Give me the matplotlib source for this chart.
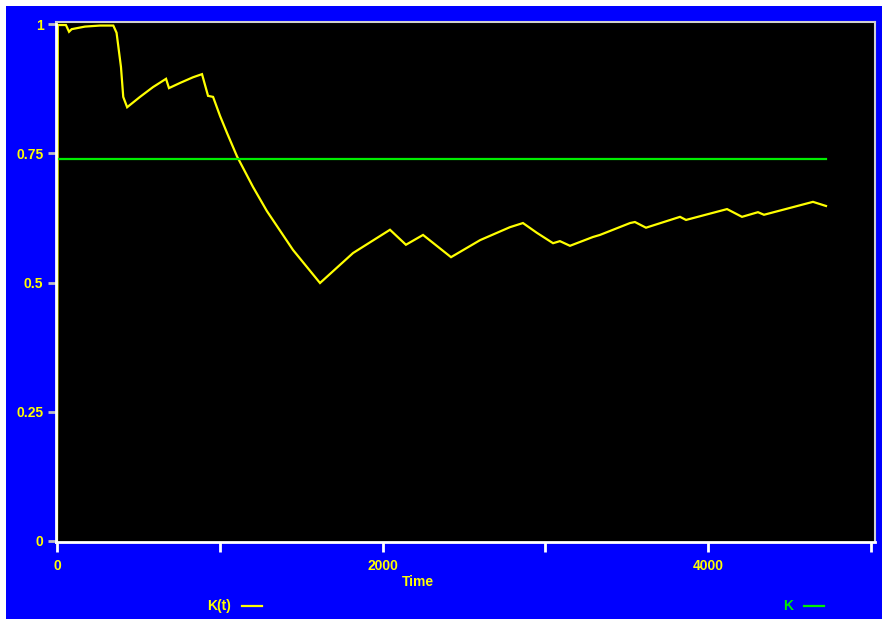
import matplotlib
matplotlib.use("Agg")
import matplotlib.pyplot as plt
from matplotlib.patches import Rectangle
from matplotlib.lines import Line2D

# K(t) trajectory over time
time = [0, 5, 55, 74, 90, 172, 264, 346, 366, 393, 407, 431, 510, 590, 670, 688,
        756, 836, 891, 928, 959, 1002, 1045, 1106, 1204, 1290, 1450, 1616, 1819,
        2046, 2144, 2249, 2421, 2600, 2783, 2863, 2949, 3048, 3090, 3152, 3293,
        3336, 3521, 3551, 3619, 3828, 3865, 4117, 4209, 4307, 4344, 4645, 4725]
k_t = [0.0, 0.998, 0.998, 0.985, 0.990, 0.995, 0.997, 0.997, 0.983, 0.917, 0.859,
       0.839, 0.859, 0.878, 0.894, 0.876, 0.886, 0.897, 0.903, 0.861, 0.859,
       0.822, 0.789, 0.744, 0.685, 0.638, 0.563, 0.499, 0.557, 0.602, 0.573,
       0.592, 0.549, 0.582, 0.607, 0.615, 0.596, 0.576, 0.580, 0.571, 0.588,
       0.592, 0.615, 0.617, 0.606, 0.627, 0.621, 0.642, 0.627, 0.636, 0.631,
       0.656, 0.648]

# constant reference level K
k_level = 0.738
k_span = [0, 4725]

x_ticks = [0, 1000, 2000, 3000, 4000, 5000]
x_labels = ["0", "", "2000", "", "4000", ""]
y_ticks = [0, 0.25, 0.5, 0.75, 1]
y_labels = ["0", "0.25", "0.5", "0.75", "1"]

YELLOW = "#ffff00"
GREEN = "#00ee00"
BLUE = "#0000ff"

plt.rcParams["font.family"] = ["Liberation Sans", "DejaVu Sans"]
plt.rcParams["font.weight"] = "bold"

W, H = 882, 619
fig = plt.figure(figsize=(W / 100, H / 100), dpi=100, facecolor="white")
fig.add_artist(Rectangle((6 / W, 0), 1 - 6 / W, 1 - 6 / H,
                         transform=fig.transFigure, facecolor=BLUE,
                         edgecolor="none", zorder=-10))

L, R, T, B = 56, 875, 22, 542
ax = fig.add_axes([L / W, 1 - B / H, (R - L) / W, (B - T) / H])
ax.set_facecolor("black")

ax.plot(time, k_t, color=YELLOW, lw=1.6, solid_joinstyle="miter")
ax.plot(k_span, [k_level, k_level], color=GREEN, lw=1.6)

px_per_x = (708 - 57) / 4000
ax.set_xlim(-(57 - L) / px_per_x, (R - 57) / px_per_x)
ax.set_ylim(-(B - 541) / 517, 1 + (24 - T) / 517)

ax.set_xticks(x_ticks)
ax.set_xticklabels(x_labels)
ax.set_yticks(y_ticks)
ax.set_yticklabels(y_labels)
ax.tick_params(axis="x", direction="out", length=7, width=2, color="white",
               pad=5, labelcolor=YELLOW, labelsize=10)
ax.tick_params(axis="y", direction="out", length=6, width=2, color="#c0c0c0",
               pad=3, labelcolor=YELLOW, labelsize=10)

for side in ("left", "bottom"):
    ax.spines[side].set_color("white")
    ax.spines[side].set_linewidth(2)
for side in ("top", "right"):
    ax.spines[side].set_color("#d0d0d0")
    ax.spines[side].set_linewidth(1.5)

fig.text(418 / W, 1 - 582 / H, "Time", ha="center", va="center",
         color=YELLOW, fontsize=10, fontweight="bold")

# legend entries along the bottom
fig.text(219 / W, 1 - 606 / H, "K(t)", ha="center", va="center",
         color=YELLOW, fontsize=10, fontweight="bold")
fig.add_artist(Line2D([242 / W, 262 / W], [1 - 606 / H] * 2,
                      transform=fig.transFigure, color=YELLOW, lw=1.6))
fig.text(788 / W, 1 - 606 / H, "K", ha="center", va="center",
         color=GREEN, fontsize=10, fontweight="bold")
fig.add_artist(Line2D([804 / W, 824 / W], [1 - 606 / H] * 2,
                      transform=fig.transFigure, color=GREEN, lw=1.6))

fig.savefig("out.png", dpi=100, facecolor=fig.get_facecolor())
